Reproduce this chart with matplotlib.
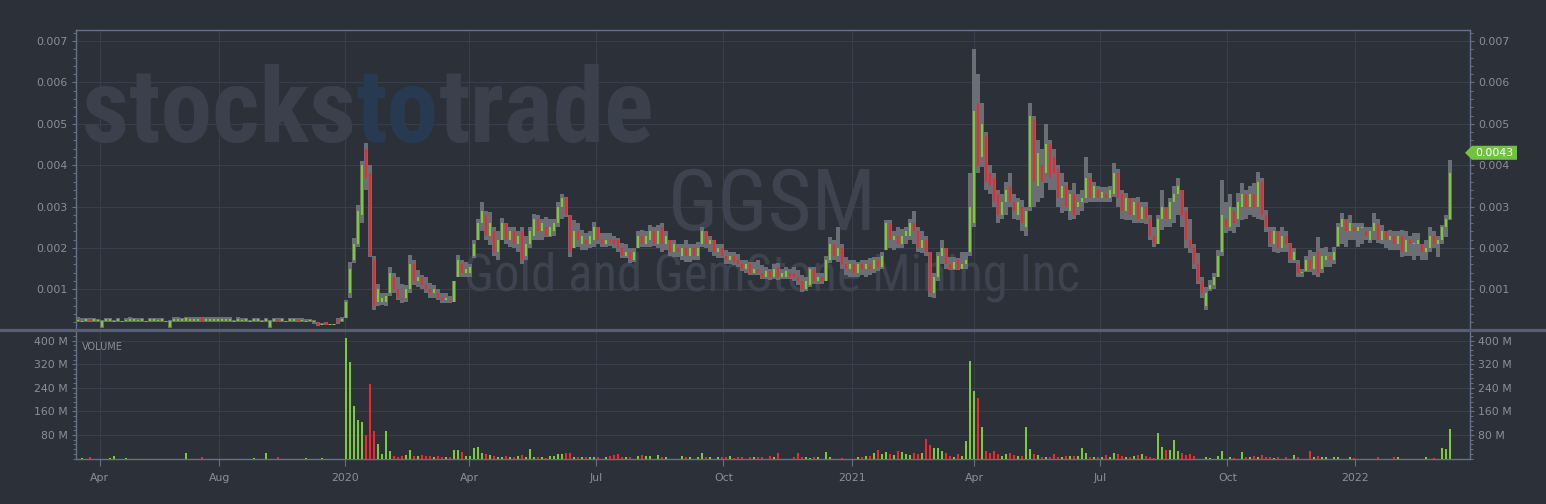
import matplotlib
matplotlib.use("Agg")
import matplotlib.pyplot as plt
from matplotlib import font_manager
from matplotlib.lines import Line2D
from matplotlib.patches import Polygon
from matplotlib.transforms import blended_transform_factory
from matplotlib.ticker import FixedLocator, MultipleLocator, FuncFormatter
import numpy as np

# ---------------- data (2-session bars, prices in 1e-4 USD, volume in millions) ----------------
low = [
 2.2,2.0,2.2,2.0,2.2,2.0,0.6,2.0,2.2,2.0, 2.0,2.0,2.0,2.2,2.2,2.0,2.2,2.0,2.2,2.2,
 2.0,2.2,2.0,0.6,2.2,2.2,2.2,2.2,2.2,2.2, 2.2,2.0,2.2,2.2,2.2,2.2,2.2,2.2,2.2,2.0,
 2.2,2.0,2.2,2.0,2.2,2.2,2.0,2.2,0.6,2.2, 2.0,2.2,2.0,2.2,2.2,2.2,2.0,2.0,2.0,1.6,
 1.2,1.3,1.3,1.3,1.3,1.6,2.2,3.0,8.0,16.3, 20.2,26.0,34.0,17.7,5.0,6.0,6.1,6.0,8.5,9.0,
 7.3,6.8,7.0,9.0,11.0,10.5,10.0,9.0,8.0,7.8, 7.5,6.8,6.8,6.8,7.0,12.9,13.0,12.9,13.0,17.5,
 22.0,24.0,22.0,20.6,18.0,17.0,21.9,21.0,20.2,20.0, 19.0,16.2,17.0,20.0,21.9,22.0,22.0,22.6,22.6,23.0,
 25.0,27.0,27.4,17.7,20.0,20.2,19.4,19.5,20.0,20.2, 21.0,20.2,20.2,20.5,20.0,19.0,17.5,17.5,16.3,16.5,
 20.0,20.2,20.2,20.2,20.5,20.0,19.0,19.5,18.0,17.7, 17.7,17.0,16.5,16.5,17.0,17.0,20.2,20.0,19.0,18.0,
 17.5,17.5,16.0,16.0,15.8,15.5,14.5,14.0,13.4,13.5, 13.5,12.5,12.5,12.2,12.5,12.2,12.5,12.5,12.5,12.0,
 11.0,9.3,9.5,10.5,11.4,11.4,11.4,12.0,16.3,17.0, 16.5,15.0,13.5,13.0,13.0,12.9,13.5,13.0,13.5,14.0,
 14.5,15.0,19.4,20.0,19.4,20.0,20.0,21.0,22.0,21.0, 19.0,18.7,18.0,8.1,8.0,12.0,16.0,15.0,14.6,14.6,
 14.6,14.8,15.0,18.0,25.0,38.0,39.5,34.0,33.0,30.0, 26.0,27.0,28.0,30.0,27.0,26.7,24.0,23.0,29.0,30.0,
 31.0,32.0,35.6,34.0,34.0,30.0,28.4,29.0,26.7,27.0, 28.0,29.0,30.8,31.0,31.0,31.0,31.0,31.0,31.0,32.3,
 30.0,27.0,26.7,26.7,26.0,26.0,26.0,25.9,22.0,20.2, 21.0,24.3,25.0,25.0,26.0,28.0,25.0,20.0,18.7,15.0,
 11.4,8.0,4.9,9.7,10.0,13.0,18.0,23.5,24.0,23.5, 25.0,26.7,27.0,28.0,27.4,27.0,26.7,23.8,20.2,19.0,
 18.7,19.0,19.0,16.3,16.3,12.9,12.9,14.1,14.1,13.5, 12.9,14.0,15.3,15.3,16.0,20.2,21.0,20.2,22.0,22.0,
 20.2,21.0,22.0,21.1,22.0,21.1,21.0,20.0,19.4,19.4, 19.5,17.7,18.0,18.0,17.0,18.0,17.0,17.0,19.0,20.0,
 17.7,21.0,22.6,26.7]
high = [
 3.3,3.0,3.0,3.0,3.0,2.8,2.6,3.0,3.0,2.6, 3.0,2.3,3.0,3.2,3.0,3.0,3.0,2.4,3.0,3.0,
 3.0,3.0,2.4,2.6,3.2,3.2,3.0,3.2,3.2,3.2, 3.2,3.2,3.2,3.2,3.2,3.2,3.2,3.2,3.2,2.5,
 3.2,3.0,3.0,2.6,3.0,3.0,2.6,3.0,2.6,3.0, 3.0,3.0,2.4,3.0,3.0,3.0,3.0,2.8,2.8,2.6,
 2.2,1.8,2.2,1.6,1.6,3.0,3.2,7.3,16.6,22.3, 30.3,41.0,45.3,40.0,18.0,11.4,9.0,9.0,15.3,14.0,
 12.9,11.4,11.0,18.2,17.0,14.6,13.5,12.9,11.5,11.0, 10.0,9.0,9.0,8.5,12.0,18.2,17.0,16.6,16.0,21.8,
 27.0,31.0,29.0,28.6,25.0,24.0,27.2,26.0,25.0,25.0, 24.0,25.0,23.0,25.0,28.3,28.0,27.0,27.4,27.0,27.0,
 31.0,33.0,32.2,28.0,26.7,26.0,24.3,23.5,24.0,26.2, 25.0,23.5,23.5,23.5,23.0,22.5,21.1,21.0,19.9,20.0,
 24.0,24.3,24.0,25.5,25.0,25.5,26.0,24.0,22.0,21.9, 21.0,21.0,21.9,21.0,21.0,21.5,25.0,24.0,23.0,22.0,
 21.0,21.0,19.4,19.0,19.0,18.5,17.0,17.0,16.5,16.5, 17.0,15.8,15.5,15.0,16.0,16.3,15.0,15.5,15.0,15.3,
 14.6,13.5,13.0,15.3,15.3,14.0,14.0,18.0,22.6,22.0, 25.0,21.0,17.7,17.0,17.0,16.5,17.0,17.0,17.5,17.7,
 17.7,19.0,26.7,26.7,24.0,25.0,24.5,25.0,27.0,29.0, 25.0,24.2,23.0,19.0,14.0,19.0,21.9,20.0,17.7,17.7,
 17.5,19.0,19.0,38.0,68.0,62.0,55.0,48.0,40.0,38.0, 34.0,33.0,36.0,38.0,33.0,32.0,31.5,30.0,55.0,52.0,
 46.0,44.0,50.0,46.0,44.0,40.0,38.0,36.0,34.0,35.6, 33.0,34.0,42.0,38.0,36.0,35.0,34.7,34.7,35.0,40.5,
 39.0,34.0,33.2,32.0,32.0,32.3,31.0,31.0,28.0,25.0, 28.0,34.0,30.0,32.0,35.0,37.0,34.0,30.0,27.0,21.0,
 18.7,13.0,10.5,12.2,14.0,19.4,36.4,31.0,33.0,30.0, 33.2,35.6,34.0,35.0,35.6,38.3,37.0,29.1,25.0,25.0,
 24.0,25.0,24.0,21.1,20.0,17.0,15.0,18.0,19.4,19.0, 22.6,20.0,20.2,19.0,20.2,26.0,28.4,27.0,28.0,26.0,
 26.0,26.0,25.0,25.0,28.4,27.0,25.5,24.0,24.3,24.0, 24.0,24.3,24.0,23.0,23.5,23.5,21.0,22.0,25.0,24.0,
 23.0,25.5,28.0,41.2]
open_ = [
 2.5,2.2,2.6,2.8,2.6,2.4,0.8,2.6,2.6,2.2, 2.6,2.2,2.4,2.6,2.6,2.4,2.6,2.2,2.6,2.6,
 2.4,2.6,2.2,0.8,2.6,2.6,2.6,2.4,2.6,2.6, 2.6,3.0,2.6,2.6,2.6,2.6,2.6,2.6,2.6,2.2,
 2.6,2.4,2.6,2.2,2.4,2.6,2.2,2.4,0.8,2.6, 2.8,2.6,2.2,2.6,2.6,2.8,2.4,2.2,2.4,2.2,
 2.0,1.5,2.0,1.5,1.5,2.8,2.4,3.0,9.0,17.0, 21.0,28.0,44.0,38.0,17.0,7.0,7.0,7.0,9.0,13.0,
 10.0,8.0,8.0,10.0,16.0,12.0,13.0,11.0,10.0,9.0, 9.0,8.0,7.5,7.5,7.0,13.0,16.0,14.0,14.0,18.0,
 22.0,26.0,28.0,23.0,24.0,19.0,22.0,26.0,22.0,24.0, 21.0,24.0,18.0,21.0,23.0,27.0,24.0,25.0,23.0,24.0,
 26.0,30.0,32.0,28.0,20.0,24.0,21.0,22.0,21.0,22.0, 25.0,22.0,21.0,22.0,22.0,22.0,20.0,18.0,19.0,17.0,
 20.0,23.0,21.0,22.0,24.0,21.0,25.0,21.0,22.0,19.0, 20.0,18.0,20.0,18.0,20.0,18.0,21.0,24.0,21.0,22.0,
 19.0,20.0,18.0,17.0,18.0,17.0,16.0,15.0,16.0,14.0, 15.0,14.0,13.0,14.5,13.0,15.5,13.0,13.0,14.0,14.0,
 13.0,12.0,10.0,11.0,15.0,12.0,13.0,12.0,17.0,21.0, 18.0,20.0,16.0,15.0,16.0,14.0,16.0,15.0,16.0,15.0,
 17.0,15.5,19.5,26.0,22.0,23.0,21.0,23.0,23.0,26.0, 24.0,20.0,22.0,19.0,9.0,13.0,18.0,20.0,16.0,15.0,
 17.0,15.0,16.0,19.0,26.0,55.0,42.0,47.0,38.0,37.0, 33.0,28.0,31.0,35.0,31.0,28.0,30.0,25.0,30.0,51.0,
 35.0,40.0,38.0,45.0,42.0,39.0,32.0,35.0,29.0,33.0, 30.0,31.0,32.0,37.0,32.0,34.0,32.0,33.0,32.0,33.0,
 38.0,33.0,29.0,32.0,28.0,31.0,27.0,30.0,27.0,23.0, 21.0,27.0,30.0,27.0,31.0,33.0,34.0,29.0,22.0,20.0,
 16.0,12.0,6.0,10.0,11.0,13.0,19.0,27.0,25.0,29.0, 27.0,30.0,33.0,30.0,33.0,30.0,36.0,28.0,24.0,21.0,
 24.0,20.0,23.0,21.0,17.0,16.0,14.0,14.5,17.0,15.0, 19.0,15.0,17.0,18.0,17.0,20.5,25.0,27.0,24.0,25.0,
 24.0,25.0,24.0,22.0,24.0,26.0,22.0,24.0,22.0,23.0, 21.0,23.0,19.0,22.0,21.0,21.0,21.0,19.0,20.0,23.0,
 21.0,22.0,25.0,27.0]
close = [
 2.5,2.2,2.6,2.4,2.6,2.4,2.4,2.6,2.6,2.4, 2.6,2.2,2.6,2.6,2.6,2.4,2.6,2.2,2.6,2.6,
 2.6,2.6,2.2,2.4,2.6,2.6,2.6,3.0,2.6,2.6, 2.6,2.2,2.6,2.6,2.6,2.6,2.6,2.6,2.6,2.2,
 2.6,2.4,2.6,2.2,2.8,2.6,2.2,2.9,2.4,2.6, 2.2,2.6,2.2,2.6,2.6,2.4,2.4,2.4,2.4,2.2,
 1.3,1.5,1.4,1.5,1.5,2.2,2.8,7.0,15.0,21.0, 29.0,40.0,37.0,18.0,6.0,10.0,8.0,8.5,14.0,10.0,
 8.0,7.5,10.0,16.0,12.0,13.0,11.0,10.0,9.0,10.0, 8.0,7.5,8.0,7.2,12.0,17.0,14.0,15.0,15.5,21.0,
 26.0,29.0,23.0,26.0,19.0,22.0,26.0,22.0,24.0,21.0, 23.0,17.0,21.0,24.0,27.0,24.0,26.0,23.0,25.0,26.0,
 30.0,32.0,28.0,19.0,24.0,22.0,23.0,21.0,23.0,25.0, 22.0,21.0,22.0,21.5,21.0,20.0,18.0,19.0,17.0,19.0,
 23.0,21.0,23.0,24.0,21.0,24.0,21.0,23.0,19.0,21.0, 19.0,20.0,18.0,20.0,18.0,20.0,24.0,21.0,22.0,19.0,
 20.0,18.0,17.0,18.0,16.5,16.0,15.0,16.0,14.0,15.0, 14.0,13.0,14.5,13.0,15.0,13.0,14.0,14.5,13.0,13.0,
 12.0,10.0,12.0,15.0,12.0,13.0,12.0,17.0,21.0,18.0, 20.0,16.0,15.0,16.0,14.0,16.0,15.0,16.0,15.0,17.0,
 15.5,18.0,26.0,22.0,23.0,21.0,23.0,24.0,26.0,24.0, 20.0,22.0,19.0,9.0,13.0,18.0,20.0,16.0,15.0,16.5,
 15.0,16.0,17.0,30.0,53.0,40.0,50.0,36.0,35.0,31.0, 28.0,31.0,34.0,31.0,29.0,31.0,26.0,29.0,52.0,36.0,
 43.0,36.0,45.0,37.0,38.0,32.0,35.0,30.0,33.0,28.0, 31.0,32.0,37.0,32.0,35.0,32.0,33.5,32.0,34.0,38.0,
 32.0,29.0,32.0,28.0,31.0,27.0,30.0,27.0,23.0,21.0, 27.0,30.0,27.0,31.0,33.0,35.0,28.0,22.0,20.0,16.0,
 12.0,9.0,9.0,11.0,13.0,18.0,28.0,25.0,30.0,26.0, 31.0,33.0,30.0,33.0,30.0,36.0,28.0,25.0,21.0,24.0,
 20.0,23.0,21.0,17.0,19.0,14.0,14.0,17.0,15.0,18.0, 14.0,18.0,18.0,17.0,19.0,25.0,27.0,24.0,26.0,24.0,
 25.0,25.0,23.0,24.0,26.0,22.0,24.0,22.0,23.0,21.0, 23.0,19.0,22.0,21.0,21.0,22.0,19.0,20.0,23.0,21.0,
 22.0,25.0,27.0,38.0]
volume_m = [
 0,2,0,4,0,0,0,0,3,10, 0,0,3,0,0,0,0,0,0,0, 0,0,0,0,0,0,0,19,0,0, 0,7,0,0,0,0,0,0,0,0,
 0,0,0,0,3,0,0,18,0,0, 7,0,0,0,0,0,0,3,0,0, 0,3,0,0,0,0,0,
 410,327,178,130,125,80,252,95,50,15,95,25,
 8,6,10,12,30,8,10,12,9,10,6,8,5,4,6,
 30,28,22,10,8,35,40,20,15,12,8,6,
 5,8,4,6,8,12,6,33,6,4,5,3,10,8,15,14,18,18,6,5,5,4,5,6,4,
 0,5,8,12,16,6,4,5,0,10,12,8,10,0,13,6,4,0,0,0,10,5,4,0,6,18,6,4,0,5,
 4,6,8,3,5,4,0,6,5,4,6,0,8,6,18,0,0,0,6,20,5,4,3,5,4,0,22,5,0,0,
 3,0,0,0,4,6,8,10,20,28,15,22,15,12,25,22,15,12,18,15,20,65,45,35,35,25,20,8,6,15,10,60,
 330,228,204,107,25,20,25,15,8,15,20,12,8,10,107,33,15,12,
 5,6,5,15,5,6,8,8,10,8,35,20,6,5,4,5,12,5,18,15,10,5,6,10,12,15,10,5,3,87,
 40,30,30,63,25,20,12,15,8,0,0,4,3,0,10,26,0,5,3,0,22,6,5,8,6,12,6,5,3,5,
 0,5,0,13,4,0,0,25,6,8,4,5,0,6,5,0,0,5,3,0,0,0,0,0,5,0,0,0,5,5,
 0,0,0,0,0,0,5,0,3,0,35,33,100]

date_tick_bar = [5.43, 35.33, 66.83, 97.83, 129.43, 161.33, 193.58, 224.08, 255.43, 287.33, 319.18]
date_tick_labels = ["Apr", "Aug", "2020", "Apr", "Jul", "Oct", "2021", "Apr", "Jul", "Oct", "2022"]
price_ticks = [0.001, 0.002, 0.003, 0.004, 0.005, 0.006, 0.007]
volume_ticks_m = [80, 160, 240, 320, 400]
last_price = 0.0043
ticker = "GGSM"
company = "Gold and GemStone Mining Inc"

n = len(low)
assert len(high) == n and len(open_) == n and len(close) == n and len(volume_m) == n

# ---------------- style ----------------
BG = "#2b3039"
GRID = "#383e4b"
SPINE = "#667089"
SEP = "#565f75"
TXT = "#8a8f99"
GREY = "#6b6e75"
GREEN = "#7ccc2c"
RED = "#f2262b"
WM = "#3b414c"
WM_BLUE = "#273a52"
BADGE = "#72c23f"

names = {f.name for f in font_manager.fontManager.ttflist}
def pick(*cands):
    for c in cands:
        if c in names:
            return c
    return "DejaVu Sans"

NARROW = pick("Liberation Sans Narrow", "Roboto Condensed", "Liberation Sans")
plt.rcParams["font.family"] = ["DejaVu Sans"]

W, H = 1546, 504
fig = plt.figure(figsize=(W / 100, H / 100), dpi=100, facecolor=BG)

left_px, right_px = 75.7, 1470.0
p_top, p_bot = 30.0, 329.0
v_top, v_bot = 331.0, 459.0
def rect(t, b):
    return [left_px / W, 1 - b / H, (right_px - left_px) / W, (b - t) / H]

ax = fig.add_axes(rect(p_top, p_bot), facecolor=BG)
axv = fig.add_axes(rect(v_top, v_bot), facecolor=BG, sharex=ax)

x = np.arange(n)
L = np.array(low) * 1e-4
Hh = np.array(high) * 1e-4
O = np.array(open_) * 1e-4
C = np.array(close) * 1e-4
V = np.array(volume_m, dtype=float)

up = C >= O
cols = np.where(up, GREEN, RED)

# price candles: grey high-low band + thin coloured open-close body
ax.bar(x, Hh - L, bottom=L, width=1.0, color=GREY, linewidth=0, zorder=3)
body_h = np.maximum(np.abs(C - O), 0.00003)
body_b = np.where(np.abs(C - O) < 0.00003, (O + C) / 2 - 0.000015, np.minimum(O, C))
ax.bar(x, body_h, bottom=body_b, width=0.3, color=cols, linewidth=0, zorder=4)

# volume
axv.bar(x, V, width=0.45, color=cols, linewidth=0, zorder=3)

# limits
ax.set_xlim((left_px - 78) / 4, (right_px - 78) / 4)
ax.set_ylim(0.000041, 0.007267)
axv.set_ylim(-1.4, 433)

# grid / ticks
for a in (ax, axv):
    a.set_axisbelow(True)
    a.grid(True, which="major", color=GRID, linewidth=0.8, zorder=0)
    a.tick_params(axis="y", which="both", left=True, right=True, labelleft=True, labelright=True,
                  direction="out", colors=SPINE, labelcolor=TXT, labelsize=7.8, pad=2.5)
    a.tick_params(axis="y", which="major", length=3.2, width=0.8)
    a.tick_params(axis="y", which="minor", length=2.4, width=0.7)

ax.yaxis.set_major_locator(FixedLocator(price_ticks))
ax.yaxis.set_minor_locator(MultipleLocator(0.0002))
ax.yaxis.set_major_formatter(FuncFormatter(lambda v, p: f"{v:.3f}"))
axv.yaxis.set_major_locator(FixedLocator(volume_ticks_m))
axv.yaxis.set_minor_locator(MultipleLocator(16))
axv.yaxis.set_major_formatter(FuncFormatter(lambda v, p: f"{v:.0f} M"))

axv.set_xticks(date_tick_bar)
axv.set_xticklabels(date_tick_labels)
axv.tick_params(axis="x", which="major", direction="out", length=5, width=0.8, colors=SPINE,
                labelcolor=TXT, labelsize=7.8, pad=5.2)
ax.tick_params(axis="x", which="both", bottom=False, labelbottom=False)

for s in ("left", "right", "top"):
    ax.spines[s].set_color(SPINE); ax.spines[s].set_linewidth(1.0)
ax.spines["bottom"].set_visible(False)
for s in ("left", "right", "bottom"):
    axv.spines[s].set_color(SPINE); axv.spines[s].set_linewidth(1.0)
axv.spines["top"].set_visible(False)

# panel separator across full width
fig.add_artist(Line2D([0, 1], [1 - 330.0 / H] * 2, transform=fig.transFigure, color=SEP, linewidth=2.3))

# watermark texts
r = fig.canvas.get_renderer()
wx = (82 - left_px) / (right_px - left_px)
wy = (p_bot - 141.7) / (p_bot - p_top)
fs0 = 60
t1 = ax.text(wx, wy, "stocks", transform=ax.transAxes, fontsize=fs0, fontweight="bold",
             family=NARROW, color=WM, va="baseline", ha="left", zorder=1)
t2 = ax.annotate("to", xy=(1, 0), xycoords=t1, fontsize=fs0, fontweight="bold", family=NARROW,
                 color=WM_BLUE, va="bottom", ha="left", zorder=1)
t3 = ax.annotate("trade", xy=(1, 0), xycoords=t2, fontsize=fs0, fontweight="bold", family=NARROW,
                 color=WM, va="bottom", ha="left", zorder=1)
wtot = t3.get_window_extent(r).x1 - t1.get_window_extent(r).x0
fs = fs0 * 573.0 / wtot
for t in (t1, t2, t3):
    t.set_fontsize(fs)

cx = (772 - left_px) / (right_px - left_px)
tg = ax.text(cx, (p_bot - 230) / (p_bot - p_top), ticker, transform=ax.transAxes, fontsize=60,
             family=NARROW, color="#3d4450", va="baseline", ha="center", zorder=1)
tg.set_fontsize(60 * 209.0 / tg.get_window_extent(r).width)
tc = ax.text(cx, (p_bot - 290) / (p_bot - p_top), company, transform=ax.transAxes, fontsize=36,
             family=NARROW, color="#3d4450", va="baseline", ha="center", zorder=1)
tc.set_fontsize(36 * 615.0 / tc.get_window_extent(r).width)

axv.text((82 - left_px) / (right_px - left_px), 1 - 16.0 / (v_bot - v_top), "VOLUME",
         transform=axv.transAxes, fontsize=7, color=TXT, va="center", ha="left")

# last price badge
bt = blended_transform_factory(ax.transAxes, ax.transData)
aw = right_px - left_px
fx = lambda px: (px - left_px) / aw
hh = 7.0 * (0.007267 - 0.000041) / (p_bot - p_top)
poly = Polygon([(fx(1465), last_price), (fx(1472), last_price + hh), (fx(1517), last_price + hh),
                (fx(1517), last_price - hh), (fx(1472), last_price - hh)], closed=True,
               transform=bt, facecolor=BADGE, edgecolor="none", clip_on=False, zorder=10)
ax.add_patch(poly)
ax.text(fx(1494.5), last_price, f"{last_price:.4f}", transform=bt, fontsize=7.8, color="white",
        ha="center", va="center", clip_on=False, zorder=11)

fig.savefig("out.png", dpi=100, facecolor=BG)
